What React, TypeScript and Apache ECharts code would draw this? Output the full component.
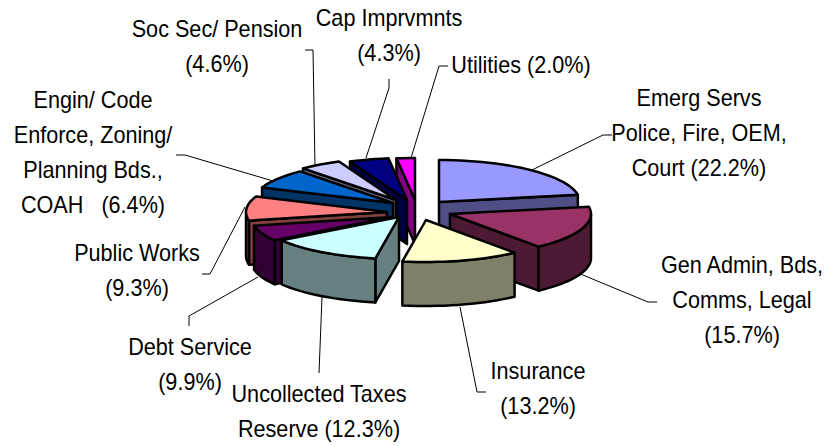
import React, { useEffect, useRef } from "react";
import * as echarts from "echarts";

const categories = ["Emerg Servs", "Gen Admin", "Insurance", "Uncollected Taxes", "Debt Service", "Public Works", "Engin/ Code", "Soc Sec/ Pension", "Cap Imprvmnts", "Utilities"];
const shares = [22.2, 15.7, 13.2, 12.3, 9.9, 9.3, 6.4, 4.6, 4.3, 2.0];
const topColors = ["#9999FF", "#993366", "#FFFFCC", "#CCFFFF", "#660066", "#FF8080", "#0066CC", "#CCCCFF", "#000080", "#FF00FF"];
const sideColors = ["#4F4F86", "#4D1A33", "#80806A", "#668080", "#330033", "#804040", "#003366", "#666680", "#000040", "#800080"];
const labels = [
  "Emerg Servs\nPolice, Fire, OEM,\nCourt (22.2%)",
  "Gen Admin, Bds,\nComms, Legal\n(15.7%)",
  "Insurance\n(13.2%)",
  "Uncollected Taxes\nReserve (12.3%)",
  "Debt Service\n(9.9%)",
  "Public Works\n(9.3%)",
  "Engin/ Code\nEnforce, Zoning/\nPlanning Bds.,\nCOAH   (6.4%)",
  "Soc Sec/ Pension\n(4.6%)",
  "Cap Imprvmnts\n(4.3%)",
  "Utilities (2.0%)",
];
const labelCentres = [[699, 133], [742, 300], [538, 389], [319, 412], [190, 365], [137, 271], [93, 153], [217, 47], [389, 36], [521, 65]];
const leaders = [
  [[612, 135], [603, 135], [532, 170]],
  [[657, 302], [648, 302], [578, 273]],
  [[486, 392], [477, 392], [460, 307]],
  [[319, 373], [322, 297]],
  [[189, 326], [189, 316], [258, 277]],
  [[202, 274], [210, 274], [245, 207]],
  [[176, 155], [185, 155], [273, 181]],
  [[305, 50], [313, 50], [315, 167]],
  [[389, 79], [389, 88], [366, 158]],
  [[448, 66], [439, 66], [411, 158]],
];
const explode = [[26, -8], [37, 4], [13, 10], [-14, 7], [-21, 7], [-26, 2], [-20, -7], [-17, -10], [-6, -10], [2, -10]];
const paintOrder = [0, 9, 8, 7, 6, 5, 4, 3, 1, 2];
const warpFrom = [0, 80, 136.5, 184, 228, 264, 297, 320, 360];
const warpTo = [0, 80, 141, 189.5, 236, 258, 291, 318, 360];

const CX = 413, CY = 210, RX = 141, RY = 42, DEPTH = 44;

function warp(a: number) {
  for (let i = 1; i < warpFrom.length; i++) {
    if (a <= warpFrom[i]) {
      const t = (a - warpFrom[i - 1]) / (warpFrom[i] - warpFrom[i - 1]);
      return warpTo[i - 1] + t * (warpTo[i] - warpTo[i - 1]);
    }
  }
  return a;
}

export default function App() {
  const ref = useRef<HTMLDivElement>(null);
  useEffect(() => {
    const chart = echarts.init(ref.current!, undefined, { renderer: "svg" });
    const total = shares.reduce((a, b) => a + b, 0);
    const stroke = { stroke: "#000", lineWidth: 2.5, lineJoin: "round" as const };
    const renderItem = (params: any, api: any) => {
      const i = params.dataIndex;
      const before = shares.slice(0, i).reduce((a, b) => a + b, 0);
      const a0 = warp((before / total) * 360);
      const a1 = warp(((before + api.value(0)) / total) * 360);
      const ax = CX + explode[i][0], ay = CY + explode[i][1];
      const pt = (deg: number, dz = 0) => {
        const r = (deg * Math.PI) / 180;
        return [ax + RX * Math.sin(r), ay - RY * Math.cos(r) + dz];
      };
      const arc = (from: number, to: number, dz = 0) => {
        const out: number[][] = [];
        const n = Math.max(2, Math.ceil(Math.abs(to - from) / 3));
        for (let k = 0; k <= n; k++) out.push(pt(from + ((to - from) * k) / n, dz));
        return out;
      };
      const base = paintOrder.indexOf(i) * 10;
      const children: any[] = [];
      const wall = (deg: number) => ({
        type: "polygon",
        z2: base,
        shape: { points: [[ax, ay], pt(deg), pt(deg, DEPTH), [ax, ay + DEPTH]] },
        style: { fill: sideColors[i], ...stroke },
      });
      const rad = (d: number) => (d * Math.PI) / 180;
      if (Math.sin(rad(a0)) < 0) children.push(wall(a0));
      if (Math.sin(rad(a1)) > 0) children.push(wall(a1));
      const f0 = Math.max(a0, 90), f1 = Math.min(a1, 270);
      if (f1 > f0) {
        children.push({
          type: "polygon",
          z2: base + 1,
          shape: { points: [...arc(f0, f1), ...arc(f1, f0, DEPTH)] },
          style: { fill: sideColors[i], ...stroke },
        });
      }
      children.push({
        type: "polygon",
        z2: base + 2,
        shape: { points: [[ax, ay], ...arc(a0, a1)] },
        style: { fill: topColors[i], ...stroke },
      });
      return { type: "group", children };
    };
    const graphics: any[] = [];
    leaders.forEach((l) => {
      graphics.push({ type: "polyline", z: 0, shape: { points: l }, style: { stroke: "#000", lineWidth: 1, fill: "none" } });
    });
    labels.forEach((t, i) => {
      graphics.push({
        type: "text",
        z: 10,
        x: labelCentres[i][0],
        y: labelCentres[i][1],
        scaleX: 0.94,
        style: {
          text: t,
          fill: "#000",
          font: '23px "Liberation Sans", Arial, sans-serif',
          lineHeight: 35,
          align: "center",
          verticalAlign: "middle",
        },
      });
    });
    chart.setOption({
      animation: false,
      backgroundColor: "#fff",
      graphic: graphics,
      series: [
        {
          type: "custom",
          coordinateSystem: "none",
          z: 5,
          renderItem,
          data: shares.map((v, i) => ({ name: categories[i], value: [v] })),
        },
      ],
    });
    return () => chart.dispose();
  }, []);
  return <div ref={ref} style={{ position: "fixed", left: 0, top: 0, width: 826, height: 446 }} />;
}
